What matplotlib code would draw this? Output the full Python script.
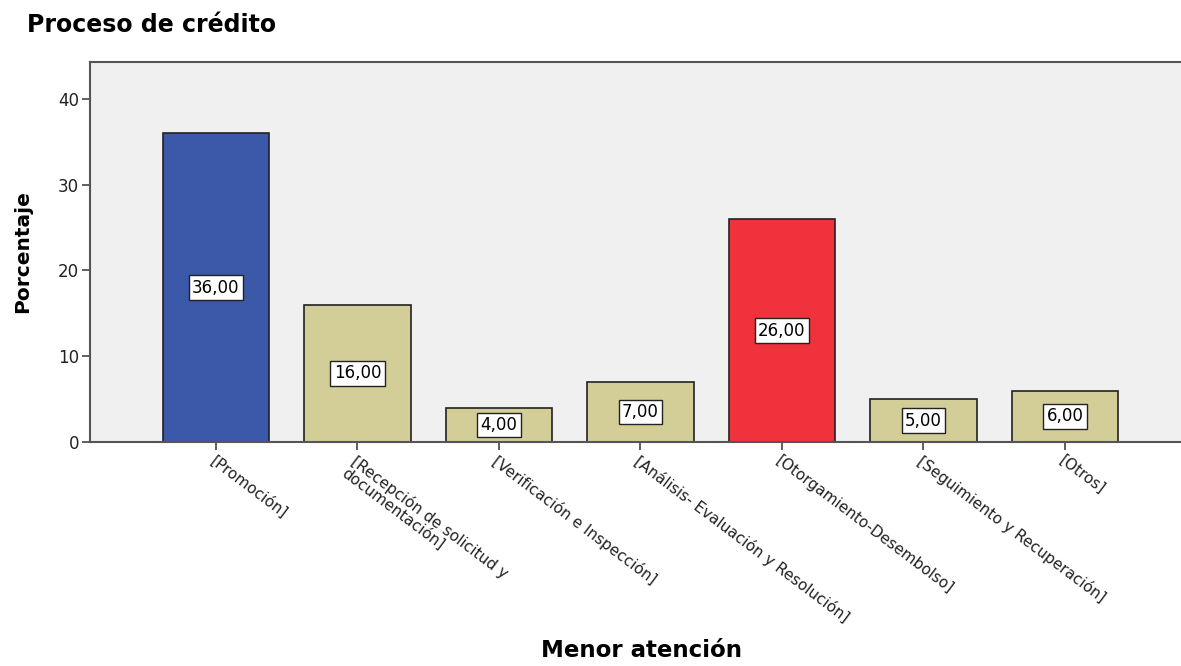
import matplotlib.pyplot as plt
import numpy as np

# Datos
categorias = ['[Promoción]', '[Recepción de solicitud y\ndocumentación]',
              '[Verificación e Inspección]', '[Análisis- Evaluación y Resolución]',
              '[Otorgamiento-Desembolso]', '[Seguimiento y Recuperación]', '[Otros]']
porcentajes = [36.0, 16.0, 4.0, 7.0, 26.0, 5.0, 6.0]
colores = ['#3C58A8', '#D3CE98', '#D3CE98', '#D3CE98', '#EF323B', '#D3CE98', '#D3CE98']

plt.rcParams['font.family'] = ['DejaVu Sans']

fig = plt.figure(figsize=(11.81, 6.66), dpi=100)
ax = fig.add_axes([0.0762, 0.3363, 0.9238, 0.5706])
ax.set_facecolor('#F0F0F0')

x = np.arange(len(categorias))
ax.bar(x, porcentajes, width=0.75, color=colores, edgecolor='#222222', linewidth=1.2, zorder=2)

# etiquetas de valor en el centro de cada barra
for xi, v in zip(x, porcentajes):
    ax.text(xi, v / 2, f'{v:.2f}'.replace('.', ','), ha='center', va='center', fontsize=12,
            zorder=3, bbox=dict(boxstyle='square,pad=0.2', fc='white', ec='#222222', lw=1))

ax.set_xlim(-0.89, 6.82)
ax.set_ylim(0, 44.3)
ax.set_yticks([0, 10, 20, 30, 40])
ax.set_xticks(x)
ax.set_xticklabels(categorias, rotation=-37, ha='left', va='top', rotation_mode='anchor',
                   fontsize=11, linespacing=0.95)
ax.tick_params(axis='y', direction='out', length=6, width=1.2, colors='#444444', labelsize=12,
               labelcolor='#222222', pad=2)
ax.tick_params(axis='x', direction='out', length=6, width=1.2, colors='#444444',
               labelcolor='#222222', pad=2)

for s in ['left', 'bottom', 'top']:
    ax.spines[s].set_color('#555555')
    ax.spines[s].set_linewidth(1.5)
ax.spines['right'].set_visible(False)

fig.text(0.023, 0.962, 'Proceso de crédito', fontsize=17, fontweight='bold', ha='left', va='center')
fig.text(0.019, 0.622, 'Porcentaje', fontsize=14.5, fontweight='bold', rotation=90,
         ha='center', va='center')
fig.text(0.543, 0.006, 'Menor atención', fontsize=16.5, fontweight='bold', ha='center', va='bottom')

fig.savefig('out.png', dpi=100)
